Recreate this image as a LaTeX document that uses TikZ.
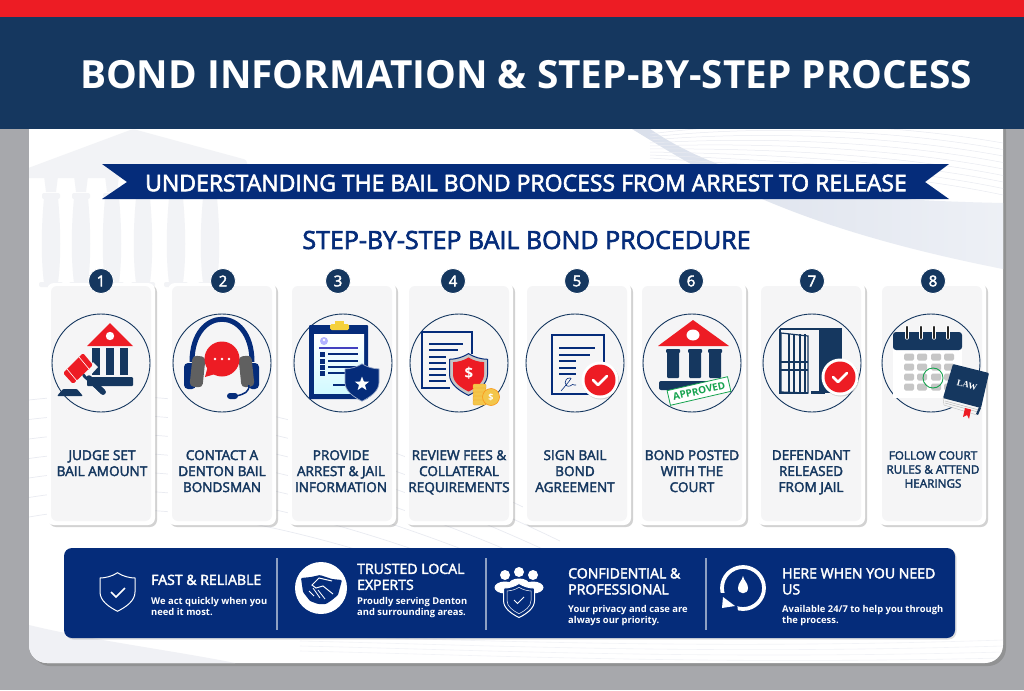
\documentclass[tikz,border=0pt]{standalone}
\usepackage{fontspec}
\setmainfont{Open Sans}
\newfontfamily\semifont[FakeBold=2.6]{Open Sans}
\newfontfamily\lawfont{Liberation Serif}
\usetikzlibrary{shadows,shapes.geometric}

\definecolor{headblue}{HTML}{15375F}
\definecolor{royal}{HTML}{052C7A}
\definecolor{alarm}{HTML}{ED1C24}
\definecolor{greybg}{HTML}{A7A8AC}
\definecolor{cardgrey}{HTML}{F5F5F6}
\definecolor{pale}{HTML}{F2F3F6}
\definecolor{wave}{HTML}{E9EBF1}
\definecolor{goldcoin}{HTML}{F3C64B}
\definecolor{stampgreen}{HTML}{16A34F}

\tikzset{
  cardouter/.style={fill=white, rounded corners=7, drop shadow={shadow xshift=2pt, shadow yshift=-2pt, opacity=.35}},
  cardinner/.style={fill=cardgrey, rounded corners=6},
  stepnum/.style={circle, fill=headblue, draw=white, line width=.8pt, minimum size=25pt, inner sep=0pt,
    text=white, font=\semifont\fontsize{15}{15}\selectfont},
  stepring/.style={circle, draw=headblue, line width=.9pt, fill=cardgrey, minimum size=98pt, inner sep=0pt},
  steptext/.style={anchor=north, align=center, text=headblue, inner sep=0pt,
    font=\semifont\fontsize{13.6}{16}\selectfont},
  bandhead/.style={anchor=north west, text=white, align=left, inner sep=0pt,
    font=\semifont\fontsize{14.1}{16}\selectfont},
  bandsub/.style={anchor=north west, text=white, align=left, inner sep=0pt,
    font=\bfseries\fontsize{9.4}{11}\selectfont},
  bandrule/.style={draw=white!55!royal, line width=1.4pt},
  bandline/.style={draw=white, line width=1pt},
}

% shield, half width 10 and half height 11 before scaling
\newcommand{\shieldat}[4]{
  \path[#4, shift={(#1,#2)}, scale=#3]
    (0,-11) .. controls (3,-9) and (7,-8) .. (10,-8)
    -- (10,0) .. controls (10,5) and (5,8.5) .. (0,11)
    .. controls (-5,8.5) and (-10,5) .. (-10,0)
    -- (-10,-8) .. controls (-7,-8) and (-3,-9) .. (0,-11) -- cycle;
}
% red disc with a tick
\newcommand{\tickdisc}[2]{
  \fill[black, opacity=.15] (#1+.7,#2+1) circle (18.5);
  \fill[white] (#1,#2) circle (18.5);
  \fill[alarm] (#1,#2) circle (15.5);
  \draw[white, line width=2.6pt, line cap=round, line join=round]
    (#1-7,#2) -- (#1-2,#2+5) -- (#1+7,#2-4);
}

\begin{document}
\begin{tikzpicture}[x=1pt, y=-1pt]
  \useasboundingbox (0,0) rectangle (1024,690);
  \fill[greybg] (0,0) rectangle (1024,690);

  % Sheet
  \fill[white, rounded corners=18, drop shadow={shadow xshift=3pt, shadow yshift=-3pt, opacity=.55}]
    (29,110) rectangle (1003,663);

  % Faint things behind the sheet content
  \begin{scope}
    \clip[rounded corners=18] (29,110) rectangle (1003,663);

    \shade[left color=white!85!royal, right color=white!90!royal!70!white]
      (632,129) .. controls (700,170) and (780,225) .. (1003,269)
      -- (1003,203) .. controls (860,200) and (740,190) .. (650,129) -- cycle;

    \foreach \i in {0,...,8}
      \draw[wave, line width=.5pt] (650,{134+\i*3}) .. controls (770,{118+\i*6}) and (900,{125+\i*6}) .. (1003,{143+\i*6.5});

    \foreach \i in {0,...,6}
      \draw[wave, line width=.7pt] (29,{400+\i*19.5}) .. controls (170,{384+\i*18}) and (330,{410+\i*20}) .. (560,{525+\i*16});

    \foreach \i in {0,...,3}
      \draw[wave!60!white, line width=.6pt] (300,{636+\i*5}) .. controls (480,{640+\i*5}) and (700,{650+\i*5}) .. (1003,{640+\i*6});

    \fill[wave!70!white] (29,625) .. controls (90,640) and (170,650) .. (235,663) -- (29,663) -- cycle;

    % Temple
    \fill[pale, rounded corners=3] (23,170) -- (133,129) -- (247,160) -- (247,178) -- (23,178) -- cycle;
    \foreach \x in {51,81,112,143,176,210} {
      \fill[pale] (\x-7,176) -- (\x+7,176) -- (\x+5,192) -- (\x-5,192) -- cycle;
      \fill[pale, rounded corners=2] (\x-9,193) rectangle (\x+9,199);
      \fill[pale] (\x-7,198) .. controls (\x-10,230) and (\x-10,260) .. (\x-7,283)
        -- (\x+7,283) .. controls (\x+10,260) and (\x+10,230) .. (\x+7,198) -- cycle;
      \fill[pale, rounded corners=2] (\x-12,282) rectangle (\x+12,287);
    }
  \end{scope}

  % Header
  \fill[headblue] (0,17) rectangle (1024,129);
  \fill[alarm] (0,0) rectangle (1024,17);
  \node[text=white, font=\bfseries\fontsize{38.8}{40}\selectfont, inner sep=0pt] (title) at (526,75)
    {BOND INFORMATION \& STEP-BY-STEP PROCESS};

  % Ribbon
  \fill[royal] (102,164) -- (949,164) -- (925,182) -- (949,199) -- (102,199) -- (127,182) -- cycle;
  \node[text=white, font=\semifont\fontsize{23}{24}\selectfont, inner sep=0pt] (ribbon) at (526,183)
    {UNDERSTANDING THE BAIL BOND PROCESS FROM ARREST TO RELEASE};

  \node[text=royal, font=\semifont\fontsize{25}{26}\selectfont, inner sep=0pt] (subtitle) at (526.5,240)
    {STEP-BY-STEP BAIL BOND PROCEDURE};

  % Cards: number, left edge, badge x, ring x, text x, text
  \foreach \n/\l/\bx/\rx/\tx/\txt in {
    1/47/101/101/102/{JUDGE SET\\BAIL AMOUNT},
    2/168/223/222/222/{CONTACT A\\DENTON BAIL\\BONDSMAN},
    3/288/338/343/341/{PROVIDE\\ARREST \& JAIL\\INFORMATION},
    4/405/453/459/459/{REVIEW FEES \&\\COLLATERAL\\REQUIREMENTS},
    5/523/577/575/575/{SIGN BAIL\\BOND\\AGREEMENT},
    6/638/691/692/692/{BOND POSTED\\WITH THE\\COURT},
    7/757/812/812/811/{DEFENDANT\\RELEASED\\FROM JAIL}} {
    \fill[cardouter] (\l,283) rectangle (\l+108,525);
    \fill[cardinner] (\l+4,286) rectangle (\l+104,521);
    \node[stepnum] (badge\n) at (\bx,281) {\n};
    \node[stepring] (ring\n) at (\rx,363) {};
    \node[steptext] (label\n) at (\tx,450) {\txt};
  }
  \fill[cardouter] (878,283) rectangle (986,525);
  \fill[cardinner] (882,286) rectangle (982,521);
  \node[stepnum] (badge8) at (933,281) {8};
  \node[stepring] (ring8) at (931,363) {};
  \node[steptext, font=\semifont\fontsize{11.7}{14}\selectfont] (label8) at (933,451)
    {FOLLOW COURT\\RULES \& ATTEND\\HEARINGS};

  % 1 - gavel and court
  \fill[alarm] (110,323) -- (133,346) -- (87,346) -- cycle;
  \fill[white] (110,336) circle (4.2);
  \foreach \x in {92,106,120}
    \fill[headblue] (\x,348) rectangle (\x+8,375);
  \fill[headblue, rounded corners=1] (87,377) rectangle (133,386);
  \draw[headblue, line width=5.5pt, line cap=round] (85,375) -- (103,392);
  \fill[cardgrey] (83,372) -- (93,362) -- (98,367) -- (88,378) -- cycle;
  \draw[headblue, line width=5.5pt, line cap=round] (89,378) -- (103,392);
  \fill[alarm, rounded corners=1.5] (63,373) -- (83,353) -- (93,365) -- (73,384) -- cycle;
  \draw[white, line width=.6pt] (67,369) -- (77,381) (79,357) -- (89,369);
  \fill[headblue, rounded corners=1] (63,389) -- (77,389) -- (83,396) -- (57,396) -- cycle;

  % 2 - headset
  \draw[royal, line width=5pt] (192,362) .. controls (192,305) and (252,305) .. (252,362);
  \fill[royal, rounded corners=4] (184,363) rectangle (196,389);
  \fill[royal, rounded corners=4] (248,363) rectangle (259,389);
  \fill[gray!75!black, rounded corners=4, rotate around={-6:(197,372)}] (191,356) rectangle (204,387);
  \fill[gray!75!black, rounded corners=4, rotate around={6:(246,372)}] (240,356) rectangle (253,387);
  \fill[alarm] (222,359) circle (17.5);
  \fill[alarm] (209,362) -- (205,377) -- (222,372) -- cycle;
  \foreach \x in {215,222,229}
    \fill[white] (\x,359) circle (1.4);
  \draw[royal, line width=1.5pt] (249,385) .. controls (249,392) and (245,394) .. (236,396);
  \fill[royal, rounded corners=3] (227,393) rectangle (238,399);

  % 3 - clipboard and police badge
  \fill[royal, rounded corners=1] (309,325) rectangle (368,399);
  \shade[top color=white, bottom color=blue!12!cyan!18!white] (314,334) rectangle (364,393);
  \fill[goldcoin!80!yellow, rounded corners=1.5] (330,324) rectangle (349,330);
  \fill[goldcoin!80!yellow] (335,320.5) rectangle (344,325);
  \fill[blue!30!white] (324,341) circle (4);
  \fill[white] (324,340) circle (1.3);
  \draw[blue!50!gray, line width=1.2pt] (319,348) -- (358,348);
  \foreach \y in {354,361,367,373} {
    \fill[royal] (320,\y-2.5) rectangle (325,\y+2.5);
    \draw[royal, line width=1.2pt] (328,\y) -- (358,\y);
  }
  \draw[royal, line width=1.2pt] (333,385) -- (347,385);
  \shieldat{362}{382.5}{1.7}{fill=royal, draw=white!60!royal, line width=.7pt}
  \node[star, star points=5, star point ratio=2.4, fill=white, minimum size=15pt, inner sep=0pt] (policestar) at (362,384) {};

  % 4 - fee sheet, shield and coins
  \draw[royal, line width=1.3pt] (472,354) -- (472,332) -- (422,332) -- (422,388) -- (450,388);
  \draw[royal, line width=1.3pt] (429,344) -- (463,344) (429,350) -- (458,350);
  \foreach \y in {357,363,369,375,381}
    \draw[royal, line width=1.3pt] (429,\y) -- (446,\y);
  \shieldat{468.5}{374.5}{1.9}{fill=gray!45!white, draw=royal, line width=1pt}
  \shieldat{468.5}{374.5}{1.55}{fill=alarm}
  \node[text=white, font=\bfseries\fontsize{15}{15}\selectfont, inner sep=0pt] (feesign) at (469,373) {\$};
  \foreach \y in {384,388,392,396,400}
    \fill[goldcoin, draw=orange!60!goldcoin, line width=.3pt, rounded corners=1] (473,\y) rectangle (486,\y+5);
  \fill[goldcoin, draw=orange!70!goldcoin, line width=.6pt] (491,397) circle (8.5);
  \node[text=white, font=\bfseries\fontsize{9}{9}\selectfont, inner sep=0pt] (coinsign) at (491,397) {\$};

  % 5 - signed agreement
  \draw[royal, line width=1.3pt] (604,372) -- (604,335) -- (552,335) -- (552,394) -- (590,394);
  \draw[royal, line width=1.3pt] (559,348) -- (595,348) (559,355) -- (590,355);
  \foreach \y in {361,368,374}
    \draw[royal, line width=1.3pt] (559,\y) -- (576,\y);
  \draw[royal, line width=.6pt] (561,391) .. controls (566,385) and (574,376) .. (570,378)
    .. controls (563,378) and (564,388) .. (570,386) .. controls (572,384) and (574,384) .. (574,385) -- (576,385);
  \tickdisc{600}{380}

  % 6 - approved court
  \fill[alarm] (693,320) -- (729,346) -- (658,346) -- cycle;
  \fill[white] (693,335) ellipse (6.5 and 5.5);
  \foreach \x in {666,688,708} {
    \fill[headblue, rounded corners=1] (\x,349) rectangle (\x+14,353);
    \fill[headblue, rounded corners=1] (\x+1,352) rectangle (\x+13,378);
  }
  \fill[headblue, rounded corners=2] (659,381) rectangle (727,390);
  \node[draw=stampgreen, fill=white, line width=.8pt, rotate=13, minimum width=62pt, minimum height=15pt, inner sep=0pt,
    text=stampgreen, font=\bfseries\fontsize{10}{11}\selectfont] (stamp) at (699,391) {APPROVED};

  % 7 - open cell door
  \fill[headblue] (819,328) rectangle (842,393);
  \draw[headblue, line width=2.4pt] (780,329) -- (819,329);
  \draw[headblue, line width=1.4pt] (780,329) -- (780,393) -- (808,393);
  \fill[headblue] (811,391) rectangle (825,393.5);
  \fill[cardgrey] (785,332.5) rectangle (819,391);
  \draw[headblue, line width=1.2pt] (781,333) -- (808,336) -- (808,393) -- (781,392) -- cycle;
  \foreach \x in {789,794,800,805}
    \draw[headblue, line width=1.1pt] (\x,334) -- (\x,392);
  \draw[headblue, line width=1.2pt] (781,362) -- (808,362) (781,370) -- (808,370);
  \tickdisc{840}{377}

  % 8 - calendar and law book
  \fill[white] (893,340) rectangle (962,398);
  \fill[headblue, rounded corners=3] (893,332) -- (962,332) -- (962,350) -- (893,350) -- cycle;
  \foreach \x in {907,921,934,948} {
    \draw[white, line width=3.4pt, line cap=round] (\x,327) -- (\x,338);
    \draw[black!85, line width=2.2pt, line cap=round] (\x,327) -- (\x,338);
  }
  \foreach \x in {909,922,936,949}
    \foreach \y in {357,367,377,387}
      \fill[gray!45!white, rounded corners=1.5] (\x-5,\y-3.5) rectangle (\x+5,\y+3.5);
  \draw[stampgreen, line width=.9pt] (933,378) circle (10);
  \fill[white!92!gray, draw=gray!50, line width=.4pt] (943,398) -- (981,407) -- (977,415) -- (944,405) -- cycle;
  \draw[gray!60, line width=.4pt] (945,401) -- (979,410) (945,403) -- (978,412);
  \fill[headblue, rounded corners=1] (953,364) -- (989,373) -- (981,408) -- (943,398) -- cycle;
  \fill[headblue] (981,408) -- (978,415) -- (976,414) -- (979,407) -- cycle;
  \fill[alarm] (965,408) -- (971,409.5) -- (969,419) -- (967,415) -- (963,417) -- cycle;
  \node[text=white, font=\lawfont\bfseries\fontsize{9}{9}\selectfont, rotate=-14, inner sep=0pt] (lawword) at (967,385) {LAW};

  % Band at the bottom
  \fill[royal, rounded corners=8, drop shadow={shadow xshift=1.5pt, shadow yshift=-1.5pt, opacity=.25}]
    (64,548) rectangle (955,638);
  \foreach \x in {277,486,706}
    \draw[bandrule] (\x,558) -- (\x,630);

  % Fast and reliable
  \shieldat{117.5}{592}{1.75}{bandline}
  \draw[white, line width=1.6pt] (111,592) -- (116,597) -- (125,588);
  \node[bandhead] (fasthead) at (151,574.5) {FAST \& RELIABLE};
  \node[bandsub] (fastsub) at (151,597) {We act quickly when you\\need it most.};

  % Trusted local experts
  \fill[white] (321,588) circle (26);
  \fill[royal, rounded corners=1] (301,578) -- (311,577) -- (320,575) -- (332,579) -- (342,580) -- (338,595)
    -- (332,600) -- (326,604) -- (318,604) -- (310,601) -- (303,592) -- cycle;
  \draw[white, line width=1pt] (333,594) -- (323,586) -- (316,588) -- (312,585) -- (319,578) -- (332,581);
  \draw[white, line width=.8pt] (309,591) -- (314,596) (313,588) -- (320,598) (318,590) -- (325,599);
  \node[bandhead] (trusthead) at (357,563.5) {TRUSTED LOCAL\\EXPERTS};
  \node[bandsub] (trustsub) at (357,597) {Proudly serving Denton\\and surrounding areas.};

  % Confidential and professional
  \foreach \x/\y in {505/575,533/575,519/572} {
    \fill[white] (\x,\y) circle (5);
    \fill[white] (\x,\y+12.5) ellipse (10.5 and 6);
  }
  \shieldat{519}{600.5}{1.55}{fill=royal, draw=white, line width=1pt}
  \shieldat{519}{600.5}{1.2}{draw=white, line width=.5pt}
  \draw[white, line width=.8pt] (514,600) -- (517.5,603.5) -- (524,597);
  \node[bandhead] (confhead) at (568,568) {CONFIDENTIAL \&\\PROFESSIONAL};
  \node[bandsub] (confsub) at (568,605) {Your privacy and case are\\always our priority.};

  % Here when you need us
  \draw[white, line width=3.8pt] (743,588) circle (21);
  \fill[royal] (719,593) -- (736,593) -- (738,612) -- (719,612) -- cycle;
  \fill[white] (723,597) -- (735,606) -- (722,608) -- cycle;
  \fill[white] (743,576) .. controls (744,581) and (748,583) .. (748,588)
    .. controls (748,595) and (738,595) .. (738,588) .. controls (738,583) and (742,581) .. (743,576) -- cycle;
  \node[bandhead] (herehead) at (782,568) {HERE WHEN YOU NEED\\US};
  \node[bandsub] (heresub) at (782,605) {Available 24/7 to help you through\\the process.};

\end{tikzpicture}
\end{document}
